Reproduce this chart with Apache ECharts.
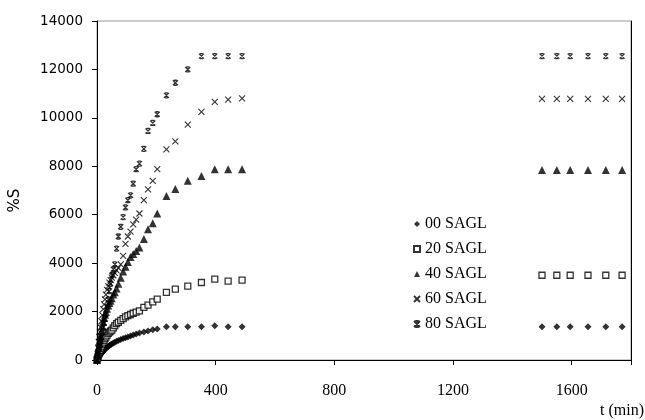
<!DOCTYPE html>
<html><head><meta charset="utf-8">
<script src="https://cdn.jsdelivr.net/npm/echarts@6/dist/echarts.min.js"></script>
<style>html,body{margin:0;padding:0;background:#fff}#c{width:645px;height:420px}</style>
</head><body><div id="c"></div>
<script>
// time points (min)
const timesEarly = [0,2,4,6,8,10,12,15,18,21,24,27,30,34,38,42,46,50,55,60,66,72,80,88,96,104,113,122,132,143,158,172,188,203,234,264,306,352,397,442,489];
const timesLate = [1500,1550,1595,1655,1715,1770];

const seriesNames = ['00 SAGL','20 SAGL','40 SAGL','60 SAGL','80 SAGL'];

const s00Early = [0,40,80,120,160,200,230,275,320,360,400,440,480,520,560,600,630,660,700,730,770,810,850,890,920,950,990,1030,1070,1110,1160,1200,1250,1280,1375,1375,1375,1375,1415,1375,1375];
const s00Late = [1370,1370,1370,1370,1370,1370];

const s20Early = [0,80,160,240,320,400,470,570,660,740,810,880,950,1030,1100,1150,1190,1230,1330,1420,1500,1560,1640,1710,1780,1830,1880,1930,1980,2030,2170,2270,2400,2510,2790,2930,3050,3200,3340,3260,3300];
const s20Late = [3500,3500,3500,3500,3500,3500];

const s40Early = [0,200,380,550,700,850,980,1200,1400,1580,1730,1870,1980,2120,2250,2350,2450,2550,2700,2800,2950,3150,3400,3650,3850,4050,4250,4380,4500,4650,5000,5400,5650,6050,6770,7060,7400,7600,7880,7880,7880];
const s40Late = [7850,7850,7850,7850,7850,7850];

const s60Early = [0,250,500,750,950,1150,1350,1600,1850,2100,2300,2500,2700,2900,3050,3200,3300,3400,3500,3600,3700,3800,3950,4300,4800,5100,5300,5600,5800,6050,6600,7050,7400,7880,8700,9030,9720,10250,10660,10750,10800];
const s60Late = [10780,10780,10780,10780,10780,10780];

const s80Early = [0,100,200,330,460,600,750,950,1150,1350,1530,1700,1900,2200,2500,2850,3150,3500,3750,3950,4600,5100,5500,5900,6300,6600,6800,7280,7880,8110,8720,9460,9790,10150,10930,11450,12000,12550,12550,12550,12550];
const s80Late = [12550,12550,12550,12550,12550,12550];

const yTicks = {min:0, max:14000, interval:2000};
const xTicks = {min:0, max:1800, interval:400};

function pairs(early, late){
  const out = [];
  timesEarly.forEach((t,i)=>out.push([t, early[i]]));
  timesLate.forEach((t,i)=>out.push([t, late[i]]));
  return out;
}

const styles = [
  {symbol:'diamond', symbolSize:7, itemStyle:{color:'#000'}},
  {symbol:'rect', symbolSize:6, itemStyle:{color:'#fff', borderColor:'#000', borderWidth:1.3}},
  {symbol:'triangle', symbolSize:8, itemStyle:{color:'#000'}},
  {symbol:'path://M0,0L10,10M10,0L0,10', symbolSize:6, itemStyle:{color:'rgba(0,0,0,0)', borderColor:'#000', borderWidth:1.1}},
  {symbol:'path://M0,0L10,10M10,0L0,10M2,0L8,0M2,10L8,10', symbolSize:5, itemStyle:{color:'rgba(0,0,0,0)', borderColor:'#000', borderWidth:1.3}}
];
const datas = [pairs(s00Early,s00Late), pairs(s20Early,s20Late), pairs(s40Early,s40Late), pairs(s60Early,s60Late), pairs(s80Early,s80Late)];

const chart = echarts.init(document.getElementById('c'), null, {renderer:'canvas'});
chart.setOption({
  animation:false,
  backgroundColor:'#fff',
  grid:{left:97, right:14, top:21, bottom:60, show:true, borderColor:'#999', borderWidth:1,
        containLabel:false, outerBoundsMode:'none'},
  legend:{
    orient:'vertical', left:408, top:211, itemWidth:6, itemHeight:6, itemGap:9,
    textStyle:{fontFamily:'Liberation Serif', fontSize:16, color:'#000', lineHeight:16},
    data:seriesNames
  },
  xAxis:{
    type:'value', min:xTicks.min, max:xTicks.max, interval:xTicks.interval,
    axisLine:{lineStyle:{color:'#000', width:1}},
    axisTick:{show:true, inside:false, length:5, lineStyle:{color:'#000'}},
    splitLine:{show:false},
    axisLabel:{fontFamily:'Liberation Serif', fontSize:16, color:'#000', margin:23,
      formatter:v=> (v===1800?'':String(v))},
    name:'t (min)', nameLocation:'end', nameGap:13,
    nameTextStyle:{fontFamily:'Liberation Serif', fontSize:16, color:'#000', align:'right', verticalAlign:'top', padding:[43,0,0,0]}
  },
  yAxis:[{
    type:'value', min:yTicks.min, max:yTicks.max, interval:yTicks.interval,
    axisLine:{show:true, lineStyle:{color:'#000', width:1}},
    axisTick:{show:true, inside:false, length:5, lineStyle:{color:'#000'}},
    splitLine:{show:false},
    axisLabel:{fontFamily:'DejaVu Sans', fontSize:13.5, color:'#000', margin:14, formatter:v=>String(v)},
    name:'%S', nameLocation:'middle', nameGap:74,
    nameTextStyle:{fontFamily:'DejaVu Sans', fontSize:15, color:'#000', padding:[0,20,0,0]}
  },{
    type:'value', position:'right', min:yTicks.min, max:yTicks.max, interval:yTicks.interval,
    axisLine:{show:true, lineStyle:{color:'#000', width:1}},
    axisTick:{show:false}, axisLabel:{show:false}, splitLine:{show:false}
  }],
  series: seriesNames.map((n,i)=>Object.assign({
    name:n, type:'scatter', data:datas[i], silent:true
  }, styles[i]))
});
</script></body></html>
